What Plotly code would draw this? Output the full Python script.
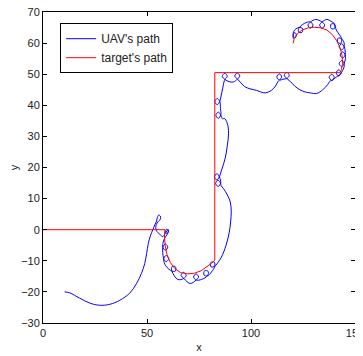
import plotly.graph_objects as go

# ---- data ----
uav_x = [
    10.4, 12.8, 17.6, 22.5, 27.3, 32.1, 36.9, 41.7, 44.9, 47.3, 48.9, 49.8, 50.6, 51.6, 52.8,
    53.8, 54.6, 55.0, 55.6, 56.4, 56.4, 55.4, 54.4, 54.5, 56.2, 57.6,
    58.6, 59.6, 60.3, 60.2, 59.4, 58.9, 59.5, 60.2, 59.6, 58.6, 57.8,
    57.6, 58.8, 60.0, 58.8, 57.6, 57.6,
    58.0, 59.2, 60.4, 59.2, 58.0, 59.0,
    61.95, 63.65, 63.65, 61.95, 62.0, 64.8,
    67.6, 68.8, 67.6, 66.4, 67.7, 70.8,
    73.6, 74.8, 73.6, 72.4, 73.7, 76.2,
    79.1, 79.4, 77.7, 77.4, 79.2, 81.0,
    82.6, 82.3, 80.6, 80.9, 82.7,
    83.6, 85.8, 88.0, 89.5, 90.2, 90.5, 90.0, 88.6, 86.8, 85.6,
    85.4, 84.2, 83.0, 84.2, 85.4,
    84.8, 83.6, 82.4, 83.6, 84.8,
    86.0, 87.6, 88.6, 89.2, 88.6, 87.2, 86.4,
    85.5, 84.3, 83.1, 84.3, 85.5, 85.3,
    85.0, 83.8, 82.6, 83.8, 85.0,
    85.6, 86.4, 87.0,
    87.4, 88.6, 87.4, 86.2, 87.5, 89.5, 91.5,
    93.4, 94.6, 93.4, 92.2, 93.5,
    95.2, 97.0, 99.5, 102.7, 105.0, 107.0, 109.8, 111.8, 112.9,
    113.6, 114.8, 113.6, 112.4, 113.7, 115.4,
    117.2, 118.4, 117.2, 116.0, 117.3,
    119.0, 121.0, 123.5, 126.0, 128.5, 131.5, 134.5, 136.8, 138.0,
    138.8, 140.0, 138.8, 137.6, 138.9, 140.8,
    143.4, 142.2, 141.0, 142.2, 143.4, 144.6,
    144.8, 143.6, 142.4, 143.6, 144.8, 145.4,
    145.3, 144.1, 142.9, 144.1, 145.3, 145.2,
    144.8, 143.6, 142.4, 143.6, 144.8, 144.6,
    143.6, 142.0, 141.6, 143.2, 143.6, 142.6, 141.0,
    140.1, 138.5, 138.5, 140.1, 140.1, 138.5, 136.5,
    134.2, 133.0, 134.2, 135.4, 134.1, 131.2,
    128.6, 127.4, 128.6, 129.8, 128.5, 126.5,
    123.2, 122.8, 124.4, 124.8, 123.1, 121.6,
    120.8, 120.3, 120.4, 121.4, 121.8, 121.0, 120.3, 120.3,
]
uav_y = [
    -20.0, -20.3, -22.0, -23.6, -24.3, -24.0, -22.7, -20.4, -17.4, -14.1, -10.9, -7.7, -4.5, -2.0, 0.0,
    1.6, 2.8, 4.0, 4.7, 4.4, 3.4, 2.6, 1.6, -0.3, -1.5, -2.2,
    -1.4, -0.3, 0.0, -0.9, -1.2, -0.5, 0.2, -0.4, -1.6, -2.6, -4.0,
    -5.6, -6.6, -5.6, -4.6, -5.7, -7.4,
    -9.3, -10.3, -9.3, -8.3, -9.4, -11.6,
    -13.3, -13.3, -11.9, -11.9, -13.35, -16.0,
    -15.7, -14.7, -13.7, -14.7, -15.7, -17.3,
    -16.2, -15.2, -14.2, -15.2, -16.2, -16.0,
    -14.8, -13.4, -13.2, -14.6, -14.8, -13.6,
    -11.8, -10.4, -10.6, -12.0, -11.7,
    -11.0, -8.8, -5.0, -1.0, 2.5, 6.0, 9.0, 11.2, 13.2, 14.2,
    14.9, 15.9, 14.9, 13.9, 15.0,
    17.0, 18.0, 17.0, 16.0, 17.1,
    19.5, 23.0, 27.0, 31.0, 34.2, 35.8, 35.6,
    36.8, 37.8, 36.8, 35.8, 36.9, 39.0,
    41.2, 42.2, 41.2, 40.2, 41.3,
    43.0, 45.5, 47.5,
    48.3, 49.3, 50.3, 49.3, 48.3, 47.6, 47.5,
    48.4, 49.4, 50.4, 49.4, 48.4,
    47.2, 46.0, 45.3, 44.8, 44.2, 44.0, 44.8, 46.2, 47.6,
    48.1, 49.1, 50.1, 49.1, 48.1, 48.4,
    48.6, 49.6, 50.6, 49.6, 48.6,
    47.6, 46.2, 45.0, 44.3, 44.0, 43.8, 45.0, 46.6, 47.8,
    48.0, 49.0, 50.0, 49.0, 48.0, 49.0,
    50.4, 51.4, 50.4, 49.4, 50.5, 52.0,
    53.4, 54.4, 53.4, 52.4, 53.5, 55.0,
    56.2, 57.2, 56.2, 55.2, 56.3, 57.8,
    58.8, 59.8, 58.8, 57.8, 58.9, 60.4,
    61.3, 61.65, 60.3, 59.95, 61.4, 62.6, 64.2,
    66.1, 66.1, 64.7, 64.7, 66.2, 67.0, 67.6,
    66.8, 65.8, 64.8, 65.8, 66.8, 67.6,
    66.8, 65.8, 64.8, 65.8, 66.8, 66.6,
    65.0, 63.7, 63.4, 64.7, 65.0, 64.6,
    64.0, 63.2, 62.0, 61.8, 62.8, 63.4, 62.6, 61.4,
]

target_x = [0, 58.6, 58.4, 58.7, 59.6, 61.2, 63.4, 66.2, 69.5, 72.8, 76.0, 78.8, 81.0, 82.6,
            82.6, 142.8, 143.5, 144.0, 143.8, 142.8, 141.2, 139.0, 136.5, 133.5, 130.5,
            127.5, 124.5, 122.2, 120.8, 120.3]
target_y = [0, 0, -2, -5, -8, -10.5, -12.5, -13.8, -14.2, -14.0, -13.2, -12.0, -10.8, -9.8,
            50.5, 50.5, 51.5, 53.5, 56.0, 58.5, 60.8, 62.8, 64.2, 64.9, 65.1,
            64.9, 64.2, 63.0, 61.6, 60.0]

x_ticks = [0, 50, 100, 150]
y_ticks = [-30, -20, -10, 0, 10, 20, 30, 40, 50, 60, 70]

FONT = "Liberation Sans, Arial, Helvetica, sans-serif"

fig = go.Figure()
fig.add_trace(go.Scatter(x=uav_x, y=uav_y, mode="lines", name="UAV's path",
                         line=dict(color="#0000ff", width=1, shape="spline", smoothing=1.0)))
fig.add_trace(go.Scatter(x=target_x, y=target_y, mode="lines", name="target's path",
                         line=dict(color="#ff0000", width=1)))

axis_common = dict(showgrid=False, zeroline=False, showline=True, linecolor="black",
                   linewidth=1, mirror="ticks", ticks="inside", ticklen=4,
                   tickcolor="black", automargin=False, ticklabeloverflow="allow",
                   tickfont=dict(family=FONT, size=11, color="#222"))

# the page body adds an 8px offset, so the figure is sized to fill the rest of the window
fig.update_layout(
    width=355, height=348,
    margin=dict(l=35, r=8, t=4, b=33),
    paper_bgcolor="white", plot_bgcolor="white",
    font=dict(family=FONT, size=11, color="#222"),
    xaxis=dict(range=[0, 150], tickvals=x_ticks, title=dict(text="x", standoff=5,
               font=dict(size=11)), **axis_common),
    yaxis=dict(range=[-30, 70], tickvals=y_ticks, title=dict(text="y", standoff=5,
               font=dict(size=11)), **axis_common),
    legend=dict(x=0.055, y=0.964, xanchor="left", yanchor="top",
                bgcolor="white", bordercolor="black", borderwidth=1,
                font=dict(family=FONT, size=12, color="#222"),
                tracegroupgap=0, itemwidth=30),
    showlegend=True,
)

fig.write_html("out.html", config={"displayModeBar": False})
